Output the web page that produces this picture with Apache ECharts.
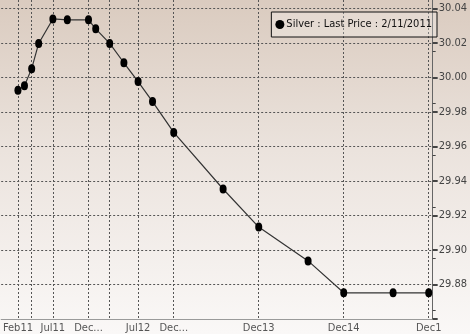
<!DOCTYPE html>
<html>
<head>
<meta charset="utf-8">
<script src="https://cdn.jsdelivr.net/npm/echarts@6/dist/echarts.min.js"></script>
<style>
  html, body { margin: 0; padding: 0; }
  #chart {
    width: 470px; height: 334px;
    background: linear-gradient(to bottom, #dacbbf 0%, #ebe3dd 45%, #faf8f7 100%);
  }
</style>
</head>
<body>
<div id="chart"></div>
<script>
// contract months and last prices
var dates = ['2011-02-01', '2011-03-01', '2011-04-01', '2011-05-01', '2011-07-01', '2011-09-01',
    '2011-12-01', '2012-01-01', '2012-03-01', '2012-05-01', '2012-07-01', '2012-09-01',
    '2012-12-01', '2013-07-01', '2013-12-01', '2014-07-01', '2014-12-01', '2015-07-01', '2015-12-01'];
var prices = [29.9926, 29.9953, 30.0052, 30.0198, 30.0340, 30.0335,
    30.0335, 30.0283, 30.0198, 30.0086, 29.9977, 29.9861,
    29.9682, 29.9354, 29.9133, 29.8937, 29.8752, 29.8752, 29.8752];

var seriesName = 'Silver : Last Price : 2/11/2011';

// x grid lines and labels
var xGridDates = ['2011-02-01', '2011-04-01', '2011-07-01', '2011-12-01', '2012-03-01',
    '2012-07-01', '2012-12-01', '2013-12-01', '2014-12-01', '2015-12-01'];
var xLabelDates = ['2011-02-01', '2011-07-01', '2011-12-01', '2012-07-01', '2012-12-01',
    '2013-12-01', '2014-12-01', '2015-12-01'];
var xLabelTexts = ['Feb11', 'Jul11', 'Dec...', 'Jul12', 'Dec...', 'Dec13', 'Dec14', 'Dec1'];

// y ticks
var yTicks = [29.86, 29.88, 29.90, 29.92, 29.94, 29.96, 29.98, 30.00, 30.02, 30.04];
var yLabels = [29.88, 29.90, 29.92, 29.94, 29.96, 29.98, 30.00, 30.02, 30.04];

var font = '"DejaVu Sans Condensed", "Liberation Sans", sans-serif';
var ellipse = 'path://M50,0A50,50,0,1,1,50,100A50,50,0,1,1,50,0Z';

function ts(d) { return echarts.time.parse(d).getTime(); }
var labelTimes = xLabelDates.map(ts);

var myChart = echarts.init(document.getElementById('chart'));
var option = {
    backgroundColor: 'transparent',
    animation: false,
    grid: {
        left: 0,
        right: 35,
        top: 0,
        bottom: 15
    },
    legend: {
        data: [{ name: seriesName, icon: ellipse }],
        right: 33,
        top: 12,
        padding: [7, 5, 7, 4],
        itemWidth: 9,
        itemHeight: 13,
        itemGap: 0,
        backgroundColor: 'rgba(255,255,255,0.25)',
        borderColor: '#111',
        borderWidth: 1,
        borderRadius: 0,
        textStyle: { color: '#111', fontFamily: font, fontSize: 11, padding: [0, 0, 0, -3] }
    },
    xAxis: {
        type: 'value',
        min: ts('2010-11-21'),
        max: ts('2015-12-18'),
        axisLine: { show: true, onZero: false, lineStyle: { color: '#9a9a9a', width: 1 } },
        axisTick: { show: false, customValues: xGridDates.map(ts) },
        axisLabel: {
            customValues: labelTimes,
            color: '#555',
            fontFamily: font,
            fontSize: 11,
            margin: 4,
            formatter: function (value) {
                for (var i = 0; i < labelTimes.length; i++) {
                    if (Math.abs(labelTimes[i] - value) < 86400000) return xLabelTexts[i];
                }
                return '';
            }
        },
        splitLine: { show: true, lineStyle: { color: '#555', type: [2, 2], width: 1 } }
    },
    yAxis: {
        type: 'value',
        position: 'right',
        min: 29.86,
        max: 30.045,
        axisLine: { show: true, lineStyle: { color: '#666', width: 1 } },
        axisTick: { show: true, customValues: yTicks, length: 5, lineStyle: { color: '#444', width: 2 } },
        minorTick: { show: true, splitNumber: 2, length: 3, lineStyle: { color: '#444', width: 1 } },
        axisLabel: {
            customValues: yLabels,
            color: '#444',
            fontFamily: font,
            fontSize: 11,
            margin: 6,
            formatter: function (v) { return v.toFixed(2); }
        },
        splitLine: { show: true, lineStyle: { color: '#555', type: [2, 2], width: 1 } }
    },
    series: [
        {
            name: seriesName,
            type: 'line',
            data: dates.map(function (d, i) { return [ts(d), prices[i]]; }),
            symbol: ellipse,
            symbolSize: [7, 9],
            itemStyle: { color: '#000' },
            lineStyle: { color: '#333', width: 1.2 }
        }
    ]
};
myChart.setOption(option);
</script>
</body>
</html>
